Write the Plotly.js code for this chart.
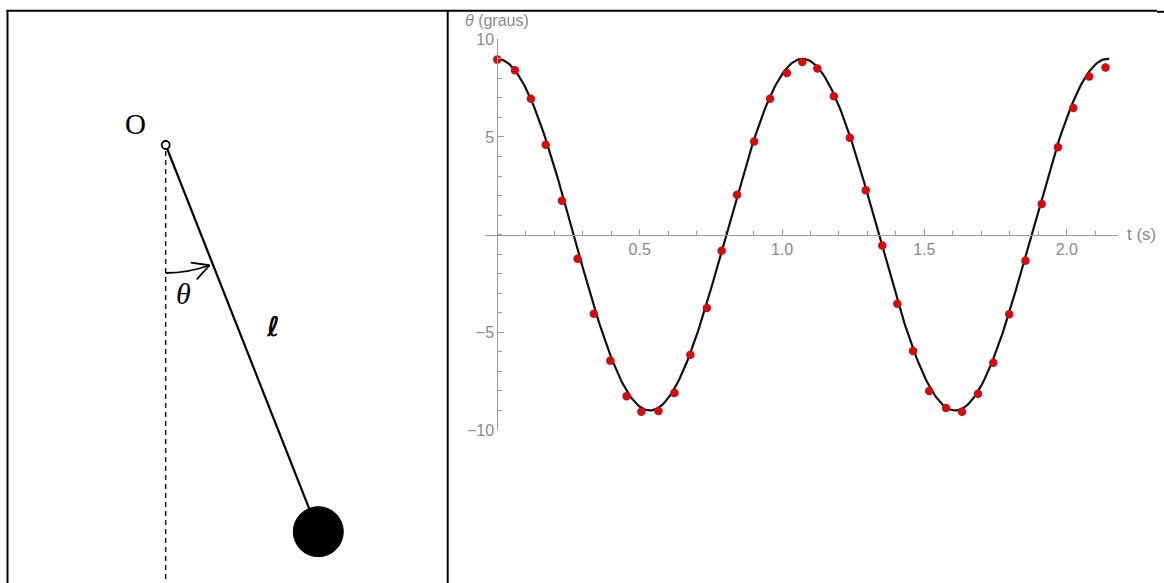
<!DOCTYPE html>
<html>
<head>
<meta charset="utf-8">
<script src="https://cdn.plot.ly/plotly-3.0.1.min.js"></script>
<style>
  html, body { margin: 0; padding: 0; background: #fff; }
  #chart { width: 1164px; height: 583px; }
</style>
</head>
<body>
<div id="chart"></div>
<script>
// Measured pendulum angle (degrees) against time (s)
const tData = [0.000, 0.062, 0.118, 0.170, 0.227, 0.282, 0.339, 0.397, 0.454, 0.506,
               0.566, 0.622, 0.678, 0.736, 0.788, 0.842, 0.902, 0.958, 1.017, 1.071,
               1.124, 1.182, 1.238, 1.294, 1.352, 1.405, 1.460, 1.517, 1.576, 1.632,
               1.688, 1.742, 1.798, 1.855, 1.912, 1.969, 2.023, 2.079, 2.136];
const thetaData = [8.96, 8.41, 6.96, 4.60, 1.74, -1.23, -4.05, -6.45, -8.27, -9.06,
                   -9.03, -8.10, -6.15, -3.76, -0.82, 2.04, 4.77, 6.96, 8.27, 8.84,
                   8.50, 7.08, 4.96, 2.27, -0.56, -3.54, -5.96, -8.00, -8.87, -9.06,
                   -8.15, -6.56, -4.07, -1.33, 1.57, 4.48, 6.48, 8.09, 8.56];

// Small-oscillation model θ(t) = θ0·cos(2πt/T)
const theta0 = 9.0;      // amplitude (graus)
const period = 1.072;    // period (s)
const tEnd = 2.149;      // model drawn up to this time

// Tick labels
const xTickVals = [0.5, 1.0, 1.5, 2.0];
const xTickText = ['0.5', '1.0', '1.5', '2.0'];
const yTickVals = [-10, -5, 5, 10];
const yTickText = ['\u221210', '\u22125', '5', '10'];

const tModel = [], thetaModel = [];
const nModel = 400;
for (let i = 0; i <= nModel; i++) {
  const t = tEnd * i / nModel;
  tModel.push(t);
  thetaModel.push(theta0 * Math.cos(2 * Math.PI * t / period));
}

// Page geometry helpers (pixel -> paper fraction)
const W = 1164, H = 583;
const px = x => x / W;
const py = y => 1 - y / H;

const xRange = [-0.0432, 2.180];
const yRange = [-10, 10];
const xDomain = [px(485), px(1118)];
const yDomain = [py(430), py(39.3)];
const yAxisPos = xDomain[0] + (0 - xRange[0]) / (xRange[1] - xRange[0]) * (xDomain[1] - xDomain[0]);
const xAxisPos = yDomain[0] + (0 - yRange[0]) / (yRange[1] - yRange[0]) * (yDomain[1] - yDomain[0]);

const axisGray = '#9c9c9c';
const labelGray = '#8a8a8a';

// Pendulum sketch geometry (pixels)
const pivot = { x: 165.7, y: 145 };
const bob = { x: 318.3, y: 531.7, r: 25 };
const arcR = 128;
const rodAngle = Math.atan2(bob.x - pivot.x, bob.y - pivot.y);

function line(x0, y0, x1, y1, width, dash) {
  return {
    type: 'line', xref: 'paper', yref: 'paper',
    x0: px(x0), y0: py(y0), x1: px(x1), y1: py(y1),
    line: { color: '#000', width: width, dash: dash || 'solid' }
  };
}

// Angle arrow: arc around the pivot from the vertical to the rod
const arcAng = rodAngle * 0.93;
const arcEnd = { x: pivot.x + arcR * Math.sin(arcAng), y: pivot.y + arcR * Math.cos(arcAng) };
const half = arcAng / 2;
const ctrl = { x: pivot.x + arcR / Math.cos(half) * Math.sin(half), y: pivot.y + arcR / Math.cos(half) * Math.cos(half) };
const arcStart = { x: pivot.x, y: pivot.y + arcR };
const arcPath = 'M ' + px(arcStart.x) + ',' + py(arcStart.y) +
                ' Q ' + px(ctrl.x) + ',' + py(ctrl.y) + ' ' + px(arcEnd.x) + ',' + py(arcEnd.y);
const backAng = Math.atan2(Math.sin(arcAng), -Math.cos(arcAng));
const barbLen = 19, barbSpread = 28 * Math.PI / 180;
const barb1 = { x: arcEnd.x + barbLen * Math.cos(backAng + barbSpread), y: arcEnd.y + barbLen * Math.sin(backAng + barbSpread) };
const barb2 = { x: arcEnd.x + barbLen * Math.cos(backAng - barbSpread), y: arcEnd.y + barbLen * Math.sin(backAng - barbSpread) };

const shapes = [
  // table frame
  line(6.5, 10.8, 1157, 10.8, 2),
  line(1157, 11.8, 1164, 11.8, 2),
  line(7.5, 10, 7.5, 583, 2),
  line(447.7, 10, 447.7, 583, 2),
  // vertical reference (dashed)
  line(pivot.x, pivot.y + 6, pivot.x, 583, 1.3, '5px,4px'),
  // rod
  line(pivot.x, pivot.y, bob.x, bob.y, 2.2),
  // bob
  {
    type: 'circle', xref: 'paper', yref: 'paper',
    x0: px(bob.x - bob.r), x1: px(bob.x + bob.r), y0: py(bob.y + bob.r), y1: py(bob.y - bob.r),
    fillcolor: '#000', line: { color: '#000', width: 1 }
  },
  // pivot
  {
    type: 'circle', xref: 'paper', yref: 'paper',
    x0: px(pivot.x - 4), x1: px(pivot.x + 4), y0: py(pivot.y + 4), y1: py(pivot.y - 4),
    fillcolor: '#fff', line: { color: '#000', width: 1.8 }
  },
  // angle arrow
  { type: 'path', xref: 'paper', yref: 'paper', path: arcPath, line: { color: '#000', width: 1.8 } },
  line(arcEnd.x, arcEnd.y, barb1.x, barb1.y, 1.8),
  line(arcEnd.x, arcEnd.y, barb2.x, barb2.y, 1.8)
];

const serif = 'Liberation Serif, DejaVu Serif, serif';
const sans = 'Liberation Sans, Arial, sans-serif';
const annotations = [
  { text: '<i>θ</i> (graus)', x: px(463), y: py(21), xref: 'paper', yref: 'paper',
    xanchor: 'left', yanchor: 'middle', showarrow: false,
    font: { family: sans, size: 16, color: labelGray } },
  { text: 't (s)', x: px(1125), y: py(234), xref: 'paper', yref: 'paper',
    xanchor: 'left', yanchor: 'middle', showarrow: false,
    font: { family: sans, size: 17, color: labelGray } },
  { text: 'O', x: px(135), y: py(124), xref: 'paper', yref: 'paper',
    xanchor: 'center', yanchor: 'middle', showarrow: false,
    font: { family: serif, size: 29, color: '#000' } },
  { text: 'θ', x: px(183), y: py(293), xref: 'paper', yref: 'paper',
    xanchor: 'center', yanchor: 'middle', showarrow: false,
    font: { family: serif, size: 30, color: '#000', style: 'italic' } },
  { text: 'ℓ', x: px(273), y: py(326), xref: 'paper', yref: 'paper',
    xanchor: 'center', yanchor: 'middle', showarrow: false,
    font: { family: 'DejaVu Sans, sans-serif', size: 27, color: '#000', weight: 700, style: 'italic' } }
];

const traces = [
  {
    type: 'scatter', mode: 'lines', x: tModel, y: thetaModel,
    line: { color: '#111', width: 2.2 }, hoverinfo: 'skip', showlegend: false
  },
  {
    type: 'scatter', mode: 'markers', x: tData, y: thetaData,
    marker: { color: 'rgb(212,12,12)', size: 8.5, line: { width: 0 } },
    showlegend: false
  }
];

const tickFont = { family: sans, size: 16, color: labelGray };

const layout = {
  width: W, height: H,
  margin: { l: 0, r: 0, t: 0, b: 0, pad: 0 },
  paper_bgcolor: '#fff', plot_bgcolor: 'rgba(0,0,0,0)',
  showlegend: false,
  xaxis: {
    domain: xDomain, range: xRange, anchor: 'free', position: xAxisPos,
    showgrid: false, zeroline: false,
    showline: true, linecolor: axisGray, linewidth: 1,
    tickmode: 'array', tickvals: xTickVals, ticktext: xTickText,
    ticks: 'inside', ticklen: 6, tickwidth: 1, tickcolor: axisGray,
    tickfont: tickFont,
    minor: { tickmode: 'linear', tick0: 0, dtick: 0.1, ticks: 'inside', ticklen: 3.5, tickcolor: axisGray, showgrid: false }
  },
  yaxis: {
    domain: yDomain, range: yRange, anchor: 'free', position: yAxisPos,
    showgrid: false, zeroline: false,
    showline: true, linecolor: axisGray, linewidth: 1,
    tickmode: 'array', tickvals: yTickVals, ticktext: yTickText,
    ticks: 'inside', ticklen: 6, tickwidth: 1, tickcolor: axisGray,
    tickfont: tickFont,
    minor: { tickmode: 'linear', tick0: 0, dtick: 1, ticks: 'inside', ticklen: 3.5, tickcolor: axisGray, showgrid: false }
  },
  shapes: shapes,
  annotations: annotations
};

Plotly.newPlot('chart', traces, layout, { displayModeBar: false, staticPlot: true });
</script>
</body>
</html>
